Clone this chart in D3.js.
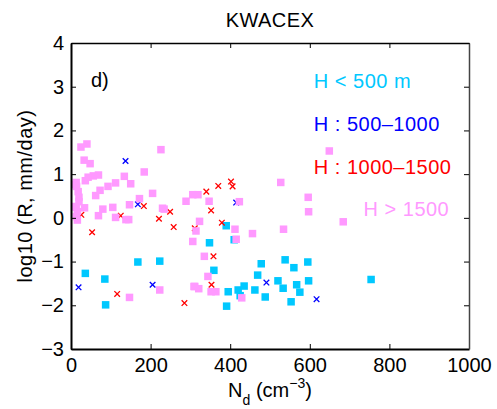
<!DOCTYPE html>
<html>
<head>
<meta charset="utf-8">
<script src="https://cdn.jsdelivr.net/npm/d3@7"></script>
<style>
  body { margin: 0; background: #fff; }
  svg text { font-family: "Liberation Sans", Arial, Helvetica, sans-serif; }
</style>
</head>
<body>
<div id="chart"></div>
<script>
const width = 497;
const height = 409;

// H < 500 m (cyan squares)
const lowNd = [36, 85, 87, 168, 223, 359, 348, 390, 410, 395, 391, 420, 425, 435, 462, 469, 478, 488, 520, 533, 538, 560, 567, 575, 553, 595, 597, 754];
const lowR = [-1.27, -1.40, -1.99, -1.01, -0.99, -1.20, -0.57, -0.18, -0.50, -1.69, -2.02, -1.65, -1.78, -1.56, -1.65, -1.31, -1.05, -1.81, -1.44, -1.61, -0.96, -1.14, -1.53, -1.70, -1.92, -1.01, -1.44, -1.41];

// H : 500-1000 (blue crosses)
const midNd = [19, 137, 168, 205, 415, 491, 617];
const midR = [-1.59, 1.30, 0.31, -1.53, 0.35, -1.48, -1.86];

// H : 1000-1500 (red crosses)
const highNd = [26, 53, 125, 183, 221, 249, 258, 311, 340, 352, 370, 379, 402, 406, 116, 285, 358, 353];
const highR = [0.07, -0.33, 0.05, 0.27, -0.02, 0.14, -0.21, -0.24, 0.60, 0.17, 0.73, -0.11, 0.83, 0.72, -1.74, -1.95, -0.88, -1.53];

// H > 1500 (pink squares)
const topNd = [25, 40, 33, 48, 226, 184, 134, 150, 112, 93, 73, 62, 69, 56, 43, 36,
  13, 14, 18, 20, 20, 13, 16, 13, 16, 10, 10,
  34, 80, 69, 105, 112, 145, 138, 147, 172, 205, 230, 234, 289, 306, 319, 347, 323, 314, 306,
  423, 412, 415, 456, 649, 527, 596, 597, 684, 534,
  147, 223, 309, 335, 344, 311, 321, 352, 364, 429];
const topR = [1.62, 1.69, 1.32, 1.24, 1.56, 1.05, 0.95, 0.78, 0.80, 0.72, 0.63, 0.51, 0.98, 0.96, 0.93, 0.85,
  0.81, 0.72, 0.60, 0.47, 0.37, 0.24, 0.14, 0.03, -0.05, 0.76, 0.26,
  0.23, 0.20, 0.05, 0.24, 0.01, -0.04, -0.04, 0.30, 0.44, 0.56, 0.22, 0.20, 0.38, 0.53, 0.53, 0.38, -0.08, -0.30, -0.54,
  0.37, -0.26, -0.49, -0.36, 1.53, 0.81, 0.47, 0.14, -0.09, -0.26,
  -1.82, -1.65, -1.57, -0.88, -1.34, -1.57, -1.62, -1.69, -1.69, -1.83];

const xTicks = [0, 200, 400, 600, 800, 1000];
const yTicks = [-3, -2, -1, 0, 1, 2, 3, 4];

const legendLabels = ["H < 500 m", "H : 500\u20131000", "H : 1000\u20131500", "H > 1500"];
const colors = ["#00c8ff", "#0000ff", "#ff0000", "#ff99ff"];

const margin = { left: 71, right: 28, top: 43, bottom: 60 };

const svg = d3.select("#chart").append("svg")
  .attr("width", width)
  .attr("height", height);

const x = d3.scaleLinear().domain([0, 1000]).range([margin.left, width - margin.right]);
const y = d3.scaleLinear().domain([-3, 4]).range([height - margin.bottom, margin.top]);

// title
svg.append("text")
  .attr("x", (x(0) + x(1000)) / 2)
  .attr("y", 27)
  .attr("text-anchor", "middle")
  .style("font-size", "20px")
  .style("letter-spacing", "0.4px")
  .text("KWACEX");

// points
function squares(nd, r, color) {
  svg.append("g").selectAll("rect")
    .data(nd.map((d, i) => [d, r[i]]))
    .enter()
    .append("rect")
    .attr("x", d => x(d[0]) - 3.75)
    .attr("y", d => y(d[1]) - 3.75)
    .attr("width", 7.5)
    .attr("height", 7.5)
    .attr("fill", color);
}

function crosses(nd, r, color) {
  const s = 2.8;
  svg.append("g").selectAll("path")
    .data(nd.map((d, i) => [d, r[i]]))
    .enter()
    .append("path")
    .attr("d", d => {
      const cx = x(d[0]), cy = y(d[1]);
      return `M${cx - s},${cy - s}L${cx + s},${cy + s}M${cx - s},${cy + s}L${cx + s},${cy - s}`;
    })
    .attr("stroke", color)
    .attr("stroke-width", 1.3)
    .attr("fill", "none");
}

squares(lowNd, lowR, colors[0]);
crosses(midNd, midR, colors[1]);
crosses(highNd, highR, colors[2]);
squares(topNd, topR, colors[3]);

// axes (ticks pointing inward, box on all sides)
const minus = d => d < 0 ? "\u2212" + Math.abs(d) : String(d);
const bottom = svg.append("g")
  .attr("transform", `translate(0, ${y(-3)})`)
  .call(d3.axisBottom(x).tickValues(xTicks).tickSizeInner(-5).tickSizeOuter(0).tickPadding(9)
    .tickFormat(minus));
const left = svg.append("g")
  .attr("transform", `translate(${x(0)}, 0)`)
  .call(d3.axisLeft(y).tickValues(yTicks).tickSizeInner(-5).tickSizeOuter(0).tickPadding(7)
    .tickFormat(minus));
const topAx = svg.append("g")
  .attr("transform", `translate(0, ${y(4)})`)
  .call(d3.axisTop(x).tickValues(xTicks).tickSizeInner(-5).tickSizeOuter(0).tickFormat(""));
const rightAx = svg.append("g")
  .attr("transform", `translate(${x(1000)}, 0)`)
  .call(d3.axisRight(y).tickValues(yTicks).tickSizeInner(-5).tickSizeOuter(0).tickFormat(""));

[bottom, left, topAx, rightAx].forEach(g => {
  g.select(".domain").attr("stroke", "#000").attr("stroke-width", 2);
  g.selectAll(".tick line").attr("stroke", "#000").attr("stroke-width", 1);
  g.selectAll("text").style("font-size", "20px").attr("fill", "#000")
    .style("font-family", "'Liberation Sans', Arial, sans-serif");
});
rightAx.select(".domain").attr("stroke", "#444").attr("stroke-width", 1.5);
topAx.select(".domain").attr("stroke-width", 1.5);

// axis labels
const xl = svg.append("text")
  .attr("x", (x(0) + x(1000)) / 2)
  .attr("y", 397)
  .attr("text-anchor", "middle")
  .style("font-size", "20px");
xl.append("tspan").text("N");
xl.append("tspan").attr("dy", 8).style("font-size", "14px").text("d");
xl.append("tspan").attr("dy", -8).text(" (cm");
xl.append("tspan").attr("dy", -9).style("font-size", "14px").text("\u22123");
xl.append("tspan").attr("dy", 9).text(")");

svg.append("text")
  .attr("transform", "rotate(-90)")
  .attr("x", -(y(-3) + y(4)) / 2)
  .attr("y", 32)
  .attr("text-anchor", "middle")
  .style("font-size", "20px")
  .style("letter-spacing", "0.5px")
  .text("log10 (R, mm/day)");

// panel letter
svg.append("text")
  .attr("x", 91)
  .attr("y", 87)
  .style("font-size", "20px")
  .text("d)");

// legend labels
const legendX = [610, 610, 610, 735];
const legendY = [2.97, 1.99, 1.0, 0.04];
svg.selectAll(".leg")
  .data(legendLabels)
  .enter()
  .append("text")
  .attr("class", "leg")
  .attr("x", (d, i) => x(legendX[i]))
  .attr("y", (d, i) => y(legendY[i]))
  .attr("fill", (d, i) => colors[i])
  .style("font-size", "20px")
  .style("letter-spacing", "0.5px")
  .text(d => d);
</script>
</body>
</html>
